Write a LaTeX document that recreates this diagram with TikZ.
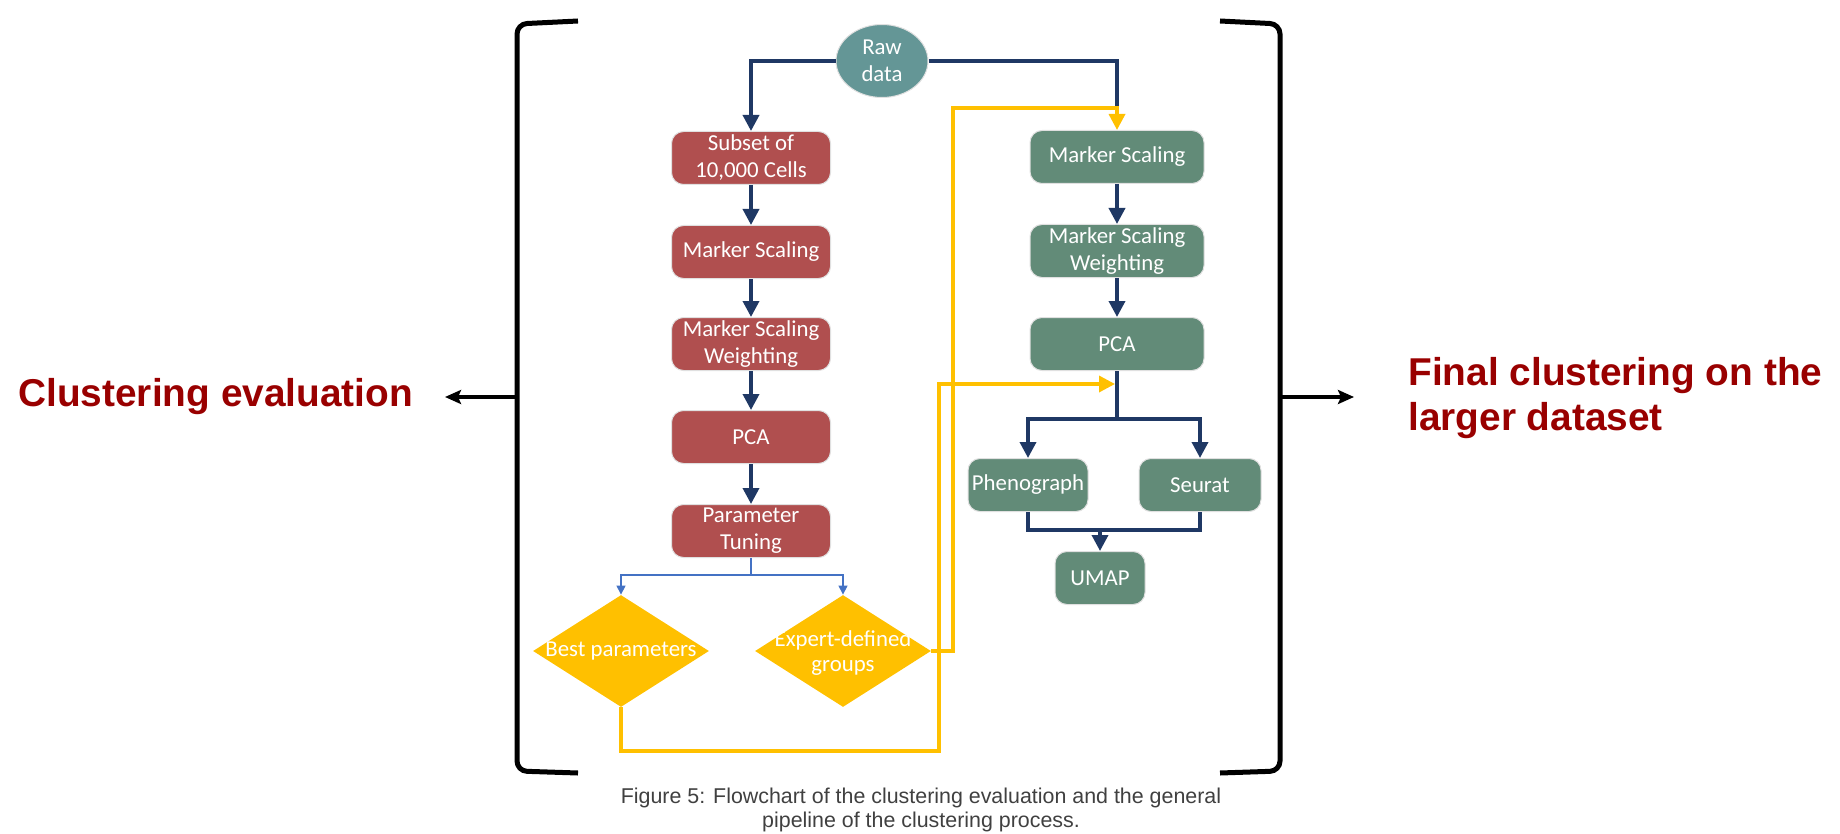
\documentclass[tikz,border=0pt]{standalone}
\usepackage{fontspec}
\setmainfont{Carlito}
\newfontfamily\arialfont{Liberation Sans}
\usetikzlibrary{arrows.meta,positioning,shapes.geometric}
\definecolor{cellred}{RGB}{176,79,79}
\definecolor{cellgreen}{RGB}{98,139,120}
\definecolor{rawteal}{RGB}{100,150,150}
\definecolor{navy}{RGB}{31,56,100}
\definecolor{tuneblue}{RGB}{68,114,196}
\definecolor{gold}{RGB}{255,192,0}
\definecolor{headred}{RGB}{153,0,0}
\definecolor{capgray}{RGB}{64,64,64}
\tikzset{stage/.style={rounded corners=6pt,draw=black!12,line width=0.5pt,text=white,align=center,inner sep=1pt,font=\fontsize{11.4}{13.5}\selectfont,minimum height=26.5pt},
  redstage/.style={stage,fill=cellred,minimum width=79.5pt},
  greenstage/.style={stage,fill=cellgreen,minimum width=87pt},
  rawnode/.style={ellipse,fill=rawteal,draw=black!12,line width=0.5pt,text=white,align=center,inner sep=0pt,minimum width=46pt,minimum height=36.5pt,font=\fontsize{11.4}{13.5}\selectfont},
  choice/.style={diamond,fill=gold,inner sep=0pt,minimum width=88pt,minimum height=56pt},
  choicetext/.style={text=white,align=center,inner sep=0pt,font=\fontsize{11.4}{12.5}\selectfont},
  navyline/.style={line width=1.8pt,navy},
  navyflow/.style={navyline,-{Triangle[length=8pt,width=8pt]}},
  tuneflow/.style={line width=0.6pt,tuneblue,-{Triangle[length=4.5pt,width=4.5pt]}},
  goldflow/.style={line width=1.7pt,gold,-{Triangle[length=8pt,width=8pt]}},
  brace/.style={line width=2.5pt,rounded corners=5pt},
  sideflow/.style={line width=2pt,-{Stealth[length=8pt,width=7pt,inset=1.5pt]}},
  heading/.style={font=\arialfont\bfseries\fontsize{19.4}{22.5}\selectfont,text=headred,align=left,inner sep=0pt},
  captext/.style={font=\arialfont\fontsize{10.7}{12.3}\selectfont,text=capgray,align=center,inner sep=0pt}}

\begin{document}
\begin{tikzpicture}[x=0.5pt,y=-0.5pt]
\useasboundingbox (0,0) rectangle (1840,834);
% brackets
\draw[brace] (578,21) -- (517,24) -- (517,771) -- (578,773);
\draw[brace] (1220,21) -- (1280,24) -- (1280,771) -- (1220,773);
\coordinate (lmid) at (517,397);
\coordinate (ltip) at (445,397);
\coordinate (rmid) at (1280,397);
\coordinate (rtip) at (1354,397);
\draw[sideflow] (lmid) -- (ltip);
\draw[sideflow] (rmid) -- (rtip);
\node[heading,anchor=west] (evaltxt) at (18,397) {Clustering evaluation};
\node[heading,anchor=west] (finaltxt) at (1408,398) {Final clustering on the\\larger dataset};
% nodes
\node[rawnode] (raw) at (882,61) {Raw\\data};
\node[redstage] (subset) at (751,158) {Subset of\\10,000 Cells};
\node[redstage] (lms) at (751,252) {Marker Scaling};
\node[redstage] (lmsw) at (751,344) {Marker Scaling\\Weighting};
\node[redstage] (lpca) at (751,437) {PCA};
\node[redstage] (tune) at (751,531) {Parameter\\Tuning};
\node[greenstage] (rms) at (1117,157) {Marker Scaling};
\node[greenstage] (rmsw) at (1117,251) {Marker Scaling\\Weighting};
\node[greenstage] (rpca) at (1117,344) {PCA};
\node[greenstage,minimum width=60pt] (pheno) at (1028,485) {Phenograph};
\node[greenstage,minimum width=61pt] (seurat) at (1200,485) {Seurat};
\node[greenstage,minimum width=45pt] (umap) at (1100,578) {UMAP};
\node[choice] (best) at (621,651) {};
\node[choice] (expert) at (843,651) {};
\node[choicetext] (besttxt) at (best) {Best parameters};
\node[choicetext] (experttxt) at (843,653) {Expert-defined\\groups};
% navy flow
\coordinate (ytop) at (1117,108);
\draw[navyflow] (raw.west) -| (subset.north);
\draw[navyline] (raw.east) -| (ytop);
\draw[navyflow] (subset) -- (lms);
\draw[navyflow] (lms) -- (lmsw);
\draw[navyflow] (lmsw) -- (lpca);
\draw[navyflow] (lpca) -- (tune);
\draw[navyflow] (rms) -- (rmsw);
\draw[navyflow] (rmsw) -- (rpca);
\coordinate (split) at (1117,419);
\draw[navyline] (rpca.south) -- (split);
\draw[navyflow] (split) -| (pheno.north);
\draw[navyflow] (split) -| (seurat.north);
\coordinate (merge) at (1100,530);
\draw[navyline] (pheno.south) |- (merge) -| (seurat.south);
\draw[navyflow] (merge) -- (umap.north);
% tuning split
\coordinate (tsplit) at (751,575);
\draw[tuneblue,line width=0.6pt] (tune.south) -- (tsplit);
\draw[tuneflow] (tsplit) -| (best.north);
\draw[tuneflow] (tsplit) -| (expert.north);
% gold feedback
\coordinate (bdown) at (939,751);
\coordinate (bturn) at (939,384);
\coordinate (pcajoin) at (1115,384);
\draw[goldflow] (best.south) |- (bdown) -- (bturn) -- (pcajoin);
\coordinate (eturn) at (953,108);
\draw[goldflow] (expert.east) -| (eturn) -| (rms.north);
% caption
\node[captext] (caption) at (921,810) {Figure 5: Flowchart of the clustering evaluation and the general\\pipeline of the clustering process.};
\end{tikzpicture}
\end{document}
